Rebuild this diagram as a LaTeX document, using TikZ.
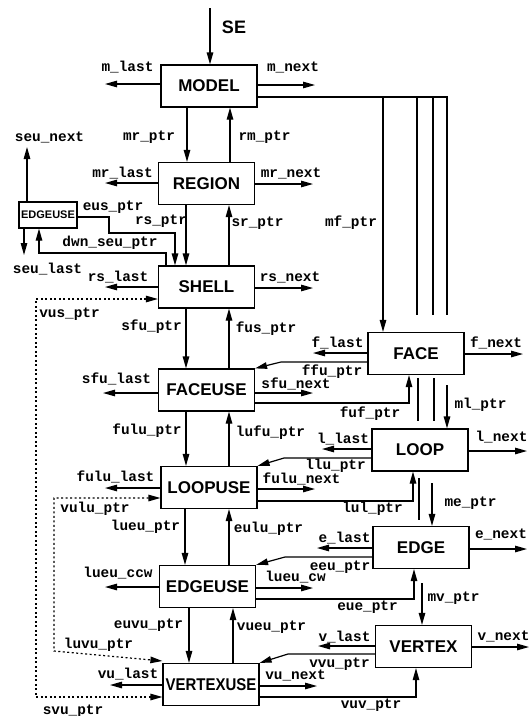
\documentclass[tikz,border=0pt]{standalone}
\usepackage{fontspec}
\setmainfont{Liberation Sans}
\newfontfamily\monof{Liberation Mono}
\usetikzlibrary{arrows.meta}
\begin{document}
\begin{tikzpicture}[x=1pt,y=-1pt,
 box/.style={draw, line width=1.2pt, minimum width=96pt, minimum height=42pt, inner sep=0pt, font=\fontsize{17}{17}\selectfont\bfseries},
 lbl/.style={font=\monof\bfseries\fontsize{14.4}{14.4}\selectfont, inner sep=0pt},
 tip/.tip={Triangle[length=12pt,width=6.5pt]},
 arr/.style={line width=1.2pt, -tip},
 ln/.style={line width=1.2pt},
 dots/.style={line width=1.2pt, dash pattern=on 2pt off 2.5pt, tip-tip}]
\useasboundingbox (0,0) rectangle (532,716);
% boxes
\node[box] (model) at (209,86) {MODEL};
\node[box] (region) at (206.5,183.5) {REGION};
\node[box] (shell) at (206.5,287) {SHELL};
\node[box] (faceuse) at (206.5,390) {FACEUSE};
\node[box] (loopuse) at (209,487.5) {LOOPUSE};
\node[box] (edgeuse) at (207.5,586.5) {EDGEUSE};
\node[box] (vertexuse) at (211,684.5) {\scalebox{0.88}[1]{VERTEXUSE}};
\node[box] (face) at (416,353.5) {FACE};
\node[box] (loop) at (420,450) {LOOP};
\node[box] (edge) at (421,547.5) {EDGE};
\node[box] (vertex) at (423.5,646.5) {VERTEX};
\node[draw, line width=1.2pt, minimum width=58pt, minimum height=26pt, inner sep=0pt, font=\fontsize{11}{11}\selectfont\bfseries] (seu) at (48,215) {EDGEUSE};
% SE
\node[font=\fontsize{18}{18}\selectfont\bfseries, inner sep=0pt] (se) at (234,27) {SE};
\coordinate (setop) at (210,8);
\draw[arr] (setop) -- (setop |- model.north);
% left column vertical arrows
\draw[arr] (187,0 |- model.south) -- (187,0 |- region.north);
\draw[arr] (230,0 |- region.north) -- (230,0 |- model.south);
\draw[arr] (186,0 |- region.south) -- (186,0 |- shell.north);
\draw[arr] (229,0 |- shell.north) -- (229,0 |- region.south);
\draw[arr] (186,0 |- shell.south) -- (186,0 |- faceuse.north);
\draw[arr] (229,0 |- faceuse.north) -- (229,0 |- shell.south);
\draw[arr] (186,0 |- faceuse.south) -- (186,0 |- loopuse.north);
\draw[arr] (229,0 |- loopuse.north) -- (229,0 |- faceuse.south);
\draw[arr] (185,0 |- loopuse.south) -- (185,0 |- edgeuse.north);
\draw[arr] (229,0 |- edgeuse.north) -- (229,0 |- loopuse.south);
\draw[arr] (189,0 |- edgeuse.south) -- (189,0 |- vertexuse.north);
\draw[arr] (233,0 |- vertexuse.north) -- (233,0 |- edgeuse.south);
\node[lbl] (t1) at (149,137) {mr\_ptr};
\node[lbl] (t2) at (264.5,137) {rm\_ptr};
\node[lbl] (t3) at (161,221) {rs\_ptr};
\node[lbl] (t4) at (257.5,223) {sr\_ptr};
\node[lbl] (t5) at (151.5,327) {sfu\_ptr};
\node[lbl] (t6) at (266,329) {fus\_ptr};
\node[lbl] (t7) at (147,431) {fulu\_ptr};
\node[lbl] (t8) at (270.5,433) {lufu\_ptr};
\node[lbl] (t9) at (145.5,527) {lueu\_ptr};
\node[lbl] (t10) at (268.5,529) {eulu\_ptr};
\node[lbl] (t11) at (148.5,625) {euvu\_ptr};
\node[lbl] (t12) at (271.5,627) {vueu\_ptr};
% left column side arrows
\draw[arr] (model.west |- 0,84) -- (105,84);
\draw[arr] (model.east |- 0,85) -- (315,85);
\draw[arr] (region.west |- 0,183) -- (105,183);
\draw[arr] (region.east |- 0,184) -- (313,184);
\draw[arr] (shell.west |- 0,287) -- (105,287);
\draw[arr] (shell.east |- 0,288) -- (313,288);
\draw[arr] (faceuse.west |- 0,393) -- (103,393);
\draw[arr] (faceuse.east |- 0,393) -- (313,393);
\draw[arr] (loopuse.west |- 0,488) -- (105,488);
\draw[arr] (loopuse.east |- 0,489) -- (315,489);
\draw[arr] (edgeuse.west |- 0,587) -- (105,587);
\draw[arr] (edgeuse.east |- 0,588) -- (313,588);
\draw[arr] (vertexuse.west |- 0,685) -- (110,685);
\draw[arr] (vertexuse.east |- 0,686) -- (317,686);
\node[lbl] (s1) at (127.5,67) {m\_last};
\node[lbl] (s2) at (293,67) {m\_next};
\node[lbl] (s3) at (122.5,173) {mr\_last};
\node[lbl] (s4) at (291,173) {mr\_next};
\node[lbl] (s5) at (118,277) {rs\_last};
\node[lbl] (s6) at (290,277) {rs\_next};
\node[lbl] (s7) at (116.5,379) {sfu\_last};
\node[lbl] (s8) at (296,384) {sfu\_next};
\node[lbl] (s9) at (115.5,477) {fulu\_last};
\node[lbl] (s10) at (301.5,478.5) {fulu\_next};
\node[lbl] (s11) at (118,573) {lueu\_ccw};
\node[lbl] (s12) at (295.5,577) {lueu\_cw};
\node[lbl] (s13) at (128,674) {vu\_last};
\node[lbl] (s14) at (295.5,675) {vu\_next};
% right column side arrows
\draw[arr] (face.west |- 0,353) -- (313,353);
\draw[arr] (face.east |- 0,354) -- (523,354);
\draw[arr] (loop.west |- 0,449) -- (322,449);
\draw[arr] (loop.east |- 0,451) -- (527,451);
\draw[arr] (edge.west |- 0,548) -- (317,548);
\draw[arr] (edge.east |- 0,549) -- (527,549);
\draw[arr] (vertex.west |- 0,646) -- (318,646);
\draw[arr] (vertex.east |- 0,647) -- (529,647);
\node[lbl] (r1) at (337.5,343) {f\_last};
\node[lbl] (r2) at (496,343) {f\_next};
\node[lbl] (r3) at (343,439) {l\_last};
\node[lbl] (r4) at (501.5,437) {l\_next};
\node[lbl] (r5) at (344.5,538) {e\_last};
\node[lbl] (r6) at (501,534) {e\_next};
\node[lbl] (r7) at (344.5,637) {v\_last};
\node[lbl] (r8) at (503.5,636) {v\_next};
% cross pointers
\draw[arr] (face.west |- 0,362) -- (281,362) -- (faceuse.north east);
\draw[arr] (faceuse.east |- 0,403) -- (409,403) -- (409,0 |- face.south);
\draw[arr] (loop.west |- 0,458) -- (284,458) -- (loopuse.north east);
\draw[arr] (loopuse.east |- 0,501) -- (413,501) -- (413,0 |- loop.south);
\draw[arr] (edge.west |- 0,557) -- (285,557) -- (edgeuse.north east);
\draw[arr] (edgeuse.east |- 0,599) -- (414,599) -- (414,0 |- edge.south);
\draw[arr] (vertex.west |- 0,654) -- (288,654) -- (vertexuse.north east);
\draw[arr] (vertexuse.east |- 0,697) -- (416,697) -- (416,0 |- vertex.south);
\node[lbl] (c1) at (332,372) {ffu\_ptr};
\node[lbl] (c2) at (370,414) {fuf\_ptr};
\node[lbl] (c3) at (335.5,466) {llu\_ptr};
\node[lbl] (c4) at (372.5,509) {lul\_ptr};
\node[lbl] (c5) at (340,567) {eeu\_ptr};
\node[lbl] (c6) at (367.5,607) {eue\_ptr};
\node[lbl] (c7) at (339.5,664) {vvu\_ptr};
\node[lbl] (c8) at (371,705) {vuv\_ptr};
% model to face/loop/edge/vertex
\draw[ln] (model.east |- 0,97) -- (447,97) -- (447,315);
\draw[arr] (383,97) -- (383,0 |- face.north);
\draw[ln] (417,97) -- (417,315);
\draw[ln] (433,97) -- (433,315);
\draw[ln] (418,378) -- (418,421);
\draw[ln] (434,378) -- (434,421);
\draw[arr] (447,385) -- (447,0 |- loop.north);
\draw[ln] (419,478) -- (419,520);
\draw[arr] (432,483) -- (432,0 |- edge.north);
\draw[arr] (422,583) -- (422,0 |- vertex.north);
\node[lbl] (m1) at (351,223) {mf\_ptr};
\node[lbl] (m2) at (480.5,405) {ml\_ptr};
\node[lbl] (m3) at (470.5,503) {me\_ptr};
\node[lbl] (m4) at (453.5,598) {mv\_ptr};
% small edgeuse
\draw[arr] (27,0 |- seu.north) -- (27,147);
\draw[arr] (24,0 |- seu.south) -- (24,255);
\draw[arr] (seu.east |- 0,217) -- (109,217) -- (109,233) -- (175,233) -- (175,0 |- shell.north);
\draw[arr] (166,0 |- shell.north) -- (166,253) -- (39,253) -- (39,0 |- seu.south);
\node[lbl] (e1) at (49.5,137) {seu\_next};
\node[lbl] (e2) at (47.5,269) {seu\_last};
\node[lbl] (e3) at (113,207) {eus\_ptr};
\node[lbl] (e4) at (110,243) {dwn\_seu\_ptr};
% dotted pointers
\draw[dots] (shell.west |- 0,299) -- (36,299) -- (36,697) -- (vertexuse.west |- 0,697);
\draw[dots] (loopuse.west |- 0,498) -- (54,498) -- (54,651) -- (vertexuse.west |- 0,661);
\node[lbl] (d1) at (69.5,314) {vus\_ptr};
\node[lbl] (d2) at (73,711) {svu\_ptr};
\node[lbl] (d3) at (95,509) {vulu\_ptr};
\node[lbl] (d4) at (98.5,645) {luvu\_ptr};
\end{tikzpicture}
\end{document}
